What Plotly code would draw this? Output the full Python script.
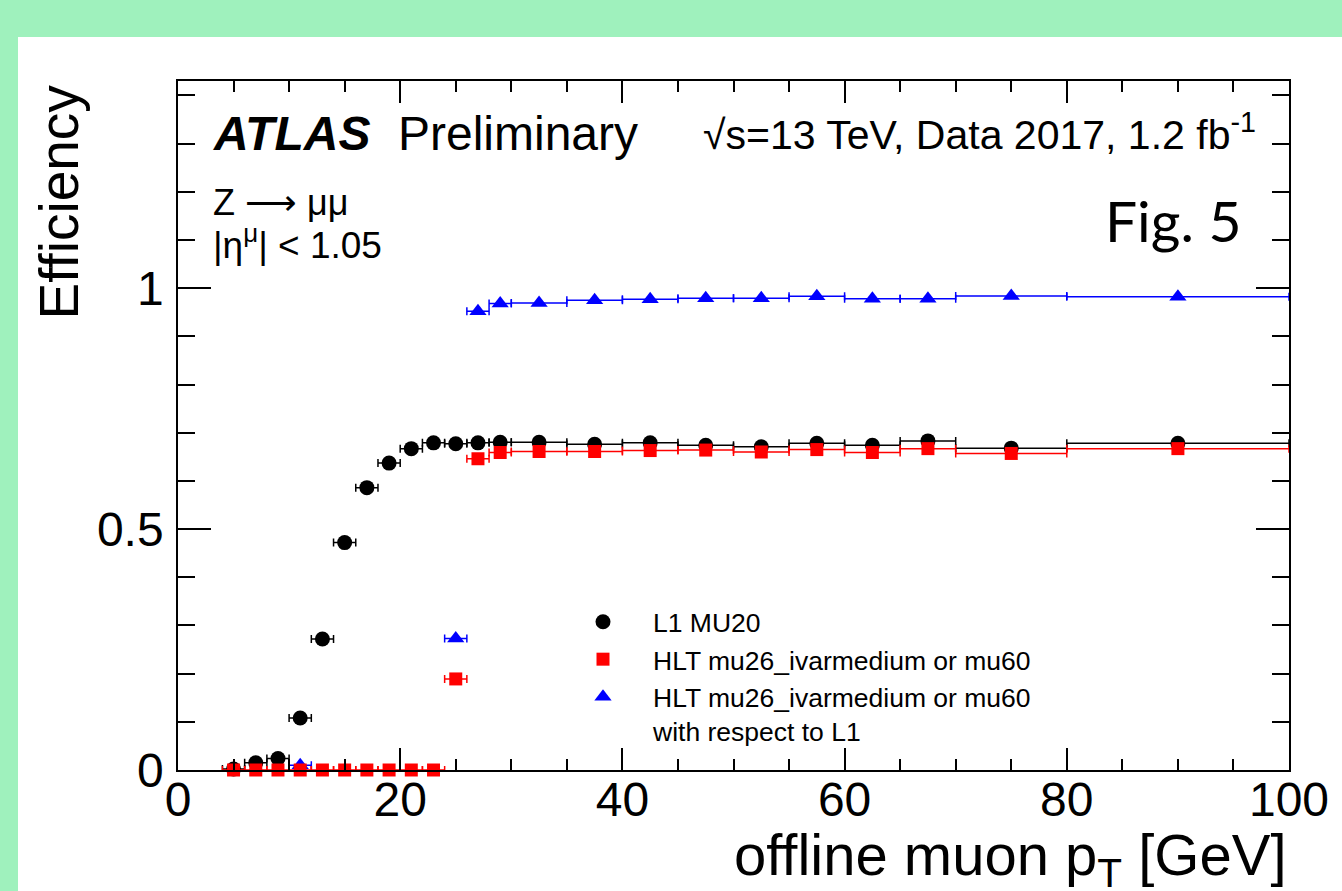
import plotly.graph_objects as go

# ---------------- data ----------------
pt_l1 = [5, 7, 9, 11, 13, 15, 17, 19, 21, 23, 25, 27, 29,
         32.5, 37.5, 42.5, 47.5, 52.5, 57.5, 62.5, 67.5, 75, 90]
pt_l1_err = [1, 1, 1, 1, 1, 1, 1, 1, 1, 1, 1, 1, 1,
             2.5, 2.5, 2.5, 2.5, 2.5, 2.5, 2.5, 2.5, 5, 10]
eff_l1 = [0.002, 0.015, 0.024, 0.108, 0.272, 0.472, 0.586, 0.637, 0.667, 0.679,
          0.677, 0.679, 0.680, 0.680, 0.676, 0.679, 0.674, 0.671, 0.678, 0.674,
          0.683, 0.668, 0.678]

pt_hlt = pt_l1
pt_hlt_err = pt_l1_err
eff_hlt = [0.0, 0.0, 0.0, 0.0, 0.0, 0.0, 0.0, 0.0, 0.0, 0.0,
           0.189, 0.646, 0.659, 0.661, 0.661, 0.663, 0.664, 0.660, 0.665, 0.659,
           0.667, 0.657, 0.667]

pt_rel = [11, 25, 27, 29, 32.5, 37.5, 42.5, 47.5, 52.5, 57.5, 62.5, 67.5, 75, 90]
pt_rel_err = [1, 1, 1, 1, 2.5, 2.5, 2.5, 2.5, 2.5, 2.5, 2.5, 2.5, 5, 10]
eff_rel = [0.01, 0.273, 0.952, 0.968, 0.969, 0.975, 0.977, 0.979, 0.979, 0.983,
           0.978, 0.978, 0.984, 0.982]

names = ["L1 MU20",
         "HLT mu26_ivarmedium or mu60",
         "HLT mu26_ivarmedium or mu60<br>with respect to L1"]

x_ticks = [0, 20, 40, 60, 80, 100]
y_ticks = [0, 0.5, 1]

# ---------------- layout geometry ----------------
W, H = 1342, 891
L, R, T, B = 178, 53, 81, 121
PW, PH = W - L - R, H - T - B


def px(x):
    return (x - L) / PW


def py(y):
    return (H - B - y) / PH


FONT = "Liberation Sans, Arial, sans-serif"
GREEN = "#9ff1bd"

fig = go.Figure()

fig.add_trace(go.Scatter(
    x=pt_rel, y=eff_rel, mode="markers", name=names[2], legendrank=3,
    marker=dict(symbol="triangle-up", size=15, color="#0000ff"),
    error_x=dict(type="data", array=pt_rel_err, color="#0000ff",
                 thickness=1.5, width=4),
    cliponaxis=False))

fig.add_trace(go.Scatter(
    x=pt_l1, y=eff_l1, mode="markers", name=names[0], legendrank=1,
    marker=dict(symbol="circle", size=15, color="black"),
    error_x=dict(type="data", array=pt_l1_err, color="black",
                 thickness=1.5, width=4),
    cliponaxis=False))

fig.add_trace(go.Scatter(
    x=pt_hlt, y=eff_hlt, mode="markers", name=names[1], legendrank=2,
    marker=dict(symbol="square", size=13, color="#ff0000"),
    error_x=dict(type="data", array=pt_hlt_err, color="#ff0000",
                 thickness=1.5, width=4),
    cliponaxis=False))

axis_common = dict(
    showline=True, linecolor="black", linewidth=1.5, mirror="ticks",
    ticks="inside", tickcolor="black", tickwidth=1.5,
    showgrid=False, zeroline=False,
    tickfont=dict(family=FONT, size=48, color="black"),
)

fig.update_xaxes(
    range=[0, 100], tickvals=x_ticks, ticklen=22,
    minor=dict(dtick=5, ticklen=11, ticks="inside", tickcolor="black",
               tickwidth=1.5, showgrid=False),
    ticklabelstandoff=-13,
    **axis_common)
fig.update_yaxes(
    range=[0, 1.43], tickvals=y_ticks, ticklen=33,
    minor=dict(dtick=0.1, ticklen=17, ticks="inside", tickcolor="black",
               tickwidth=1.5, showgrid=False),
    ticklabelstandoff=3,
    **axis_common)

annotations = [
    dict(text="<b><i>ATLAS</i></b>", x=px(211), y=py(134), xanchor="left",
         yanchor="middle", font=dict(family=FONT, size=48, color="black")),
    dict(text="Preliminary", x=px(396), y=py(134), xanchor="left",
         yanchor="middle", font=dict(family=FONT, size=48, color="black")),
    dict(text="√s=13 TeV, Data 2017, 1.2 fb<sup>-1</sup>", x=px(701), y=py(132),
         xanchor="left", yanchor="middle",
         font=dict(family=FONT, size=41, color="black")),
    dict(text="Z ⟶ μμ", x=px(211), y=py(202), xanchor="left",
         yanchor="middle", font=dict(family=FONT, size=36, color="black")),
    dict(text="|η<sup>μ</sup>| < 1.05", x=px(211), y=py(242), xanchor="left",
         yanchor="middle", font=dict(family=FONT, size=37, color="black")),
    dict(text="Fig. 5", x=px(1244), y=py(220), xanchor="right",
         yanchor="middle", font=dict(family="Lato, sans-serif", size=57,
                                     color="black")),
    dict(text="Efficiency", x=px(59), y=py(82), xanchor="center",
         yanchor="top", textangle=-90,
         font=dict(family=FONT, size=55, color="black")),
    dict(text="offline muon p<sub>T</sub> [GeV]", x=1.0, y=py(859),
         xanchor="right", yanchor="middle",
         font=dict(family=FONT, size=58, color="black")),
]
for a in annotations:
    a.update(xref="paper", yref="paper", showarrow=False)

fig.update_layout(
    width=W, height=H,
    margin=dict(l=L, r=R, t=T, b=B, pad=0),
    paper_bgcolor=GREEN, plot_bgcolor="white",
    font=dict(family=FONT, color="black"),
    annotations=annotations,
    shapes=[dict(type="rect", xref="paper", yref="paper",
                 x0=px(18), x1=px(W + 5), y0=py(37), y1=py(H + 5),
                 fillcolor="white", line=dict(width=0), layer="below")],
    showlegend=True,
    legend=dict(x=px(553), y=py(598), xanchor="left", yanchor="top",
                bgcolor="rgba(0,0,0,0)", borderwidth=0,
                font=dict(family=FONT, size=26.5, color="black"),
                valign="top", tracegroupgap=0, itemwidth=90),
)

fig.write_html("out.html")
